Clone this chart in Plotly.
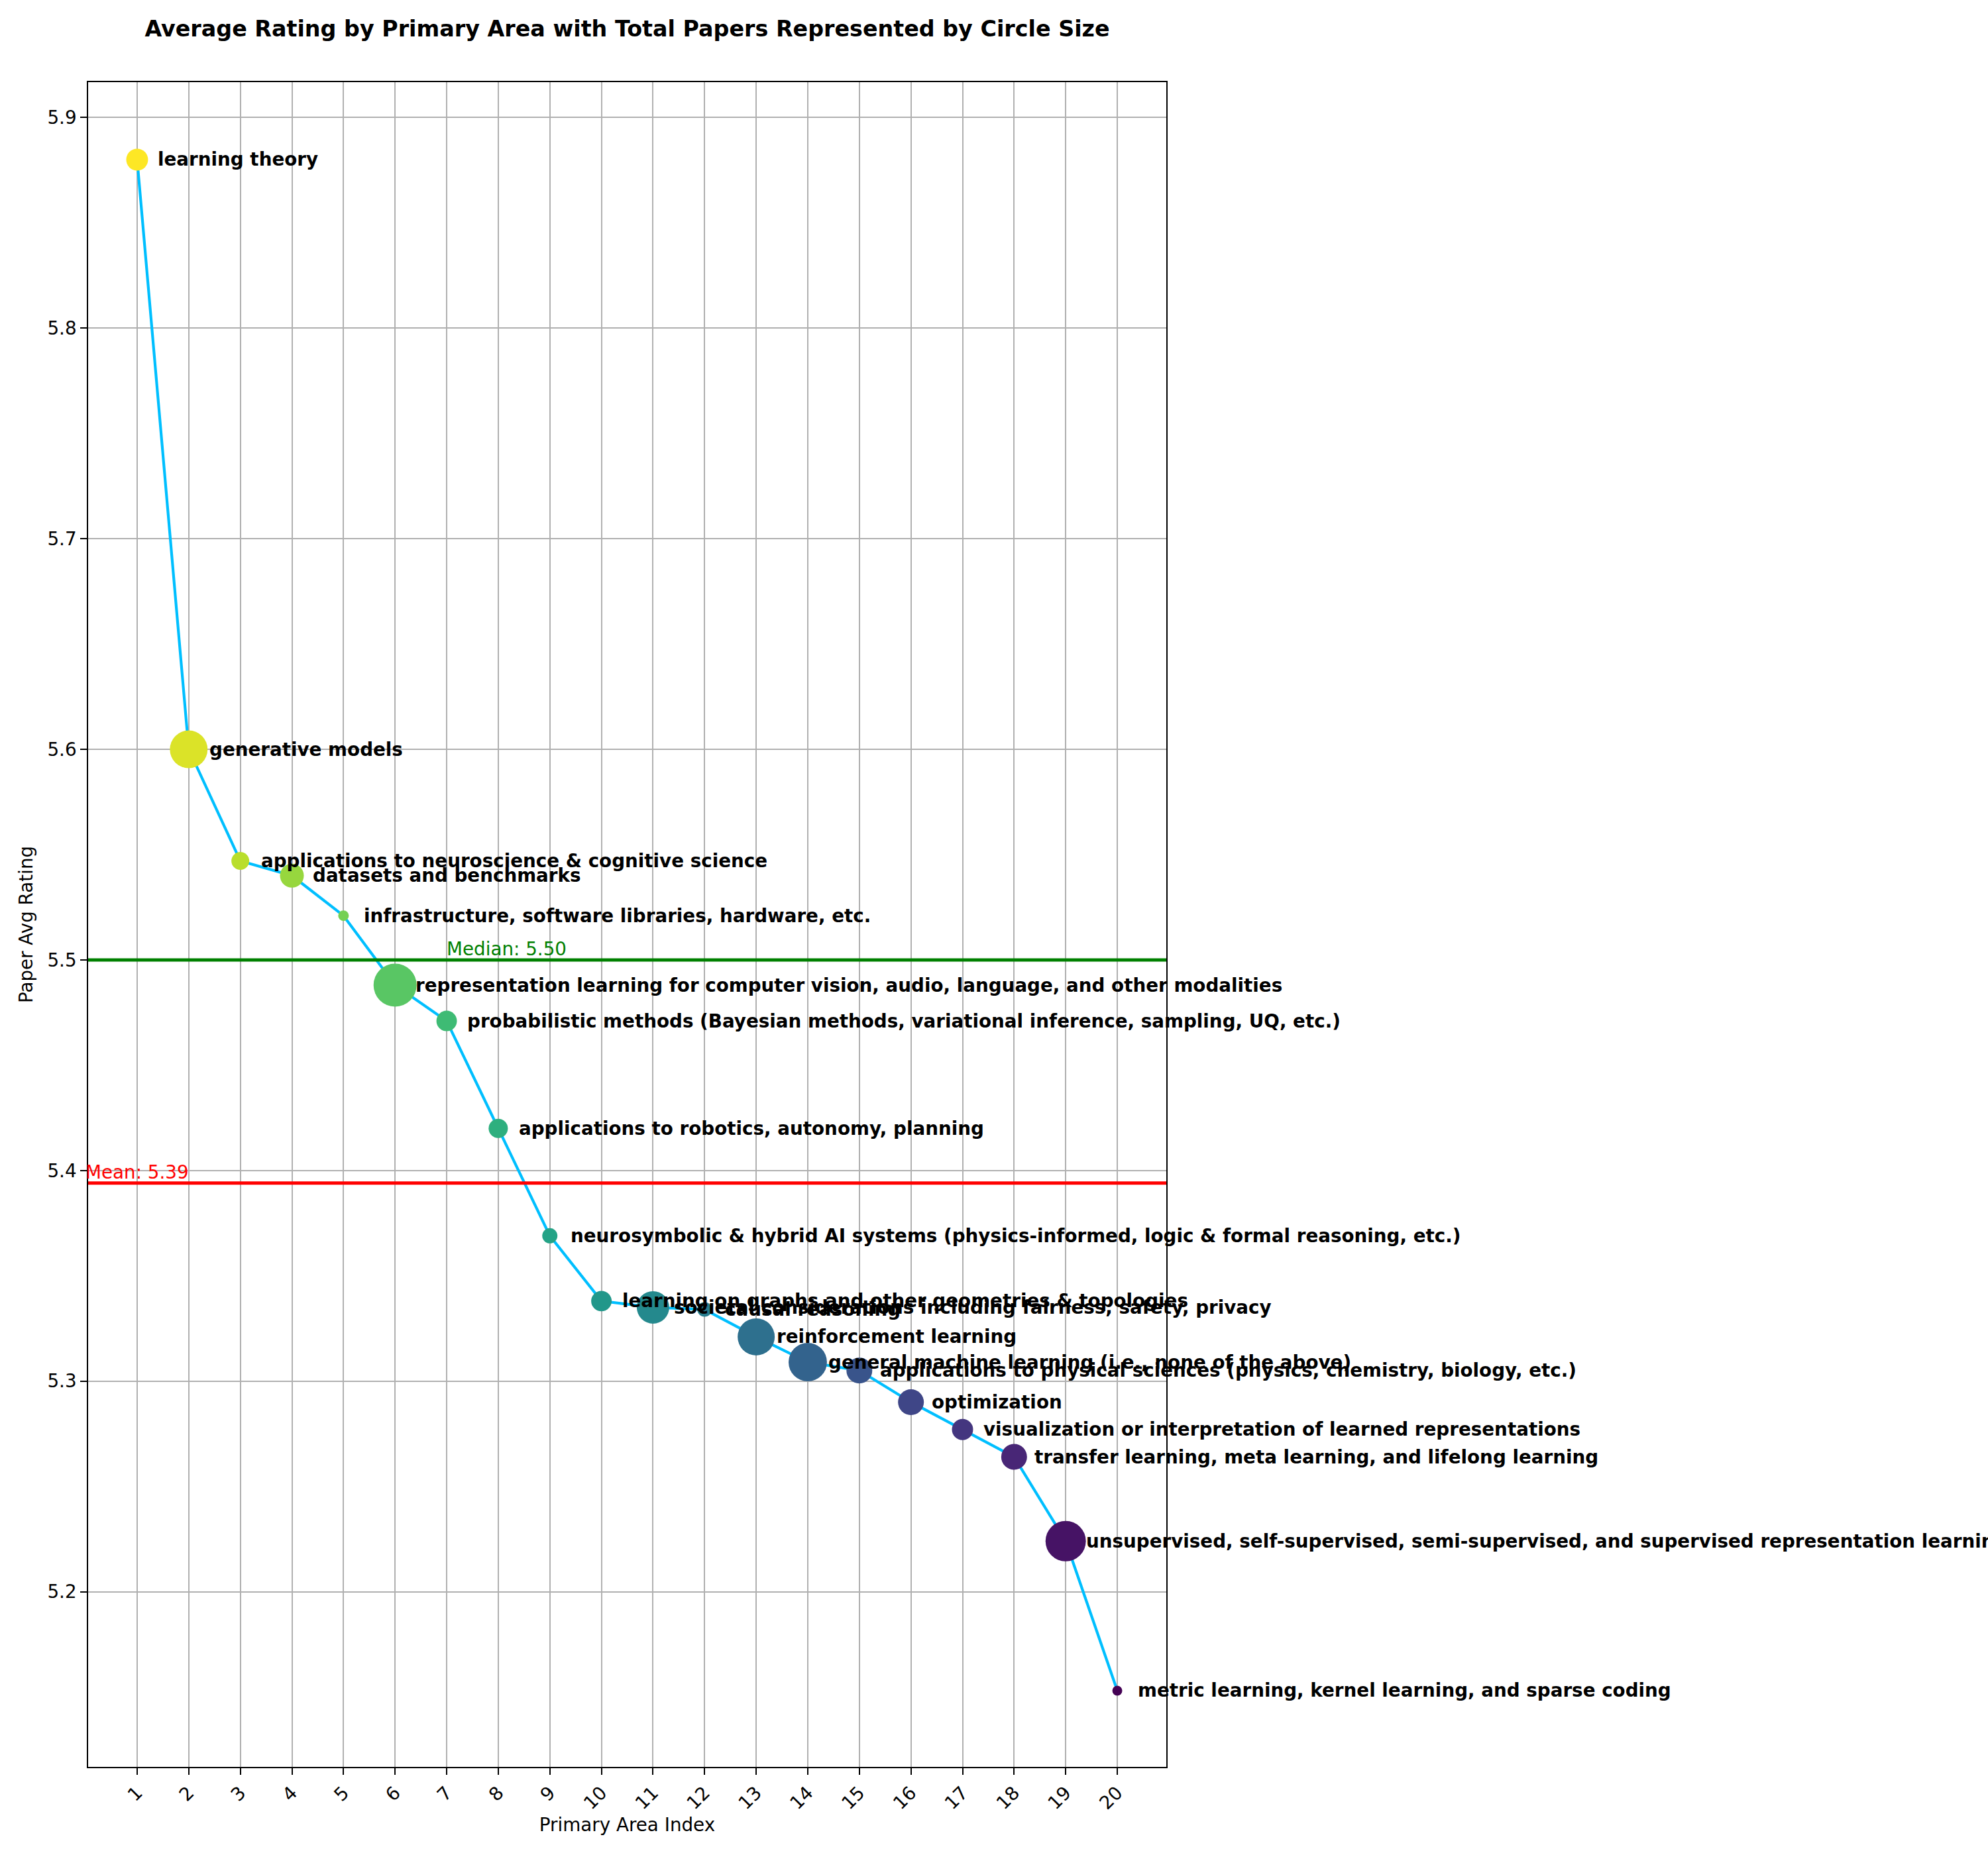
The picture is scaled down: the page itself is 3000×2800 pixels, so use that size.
import plotly.graph_objects as go
import plotly.colors as pc
import math

# ---------------- data ----------------
area_index = list(range(1, 21))
primary_areas = [
    "learning theory",
    "generative models",
    "applications to neuroscience & cognitive science",
    "datasets and benchmarks",
    "infrastructure, software libraries, hardware, etc.",
    "representation learning for computer vision, audio, language, and other modalities",
    "probabilistic methods (Bayesian methods, variational inference, sampling, UQ, etc.)",
    "applications to robotics, autonomy, planning",
    "neurosymbolic & hybrid AI systems (physics-informed, logic & formal reasoning, etc.)",
    "learning on graphs and other geometries & topologies",
    "societal considerations including fairness, safety, privacy",
    "causal reasoning",
    "reinforcement learning",
    "general machine learning (i.e., none of the above)",
    "applications to physical sciences (physics, chemistry, biology, etc.)",
    "optimization",
    "visualization or interpretation of learned representations",
    "transfer learning, meta learning, and lifelong learning",
    "unsupervised, self-supervised, semi-supervised, and supervised representation learning",
    "metric learning, kernel learning, and sparse coding",
]
avg_rating = [5.880, 5.600, 5.547, 5.540, 5.521, 5.488, 5.471, 5.420, 5.369, 5.338,
              5.335, 5.334, 5.321, 5.309, 5.305, 5.290, 5.277, 5.264, 5.224, 5.153]
total_papers = [141, 420, 94, 168, 33, 547, 124, 109, 68, 124,
                311, 63, 406, 435, 197, 197, 132, 197, 481, 29]
mean_rating = 5.394
median_rating = 5.50
y_ticks = [5.2, 5.3, 5.4, 5.5, 5.6, 5.7, 5.8, 5.9]

# ---------------- styling ----------------
PT = 200 / 72.0  # matplotlib points -> pixels at 200 dpi
FONT = "DejaVu Sans"
n = len(area_index)
colors = pc.sample_colorscale("Viridis", [(n - 1 - k) / (n - 1) for k in range(n)])
sizes = [PT * math.sqrt(p) for p in total_papers]

X_RANGE = [0.05, 20.95]
Y_RANGE = [5.1168, 5.9168]

fig = go.Figure()
fig.add_trace(go.Scatter(
    x=area_index, y=avg_rating, mode="lines",
    line=dict(color="#00bfff", width=1.5 * PT),
    hoverinfo="skip", showlegend=False,
))
fig.add_trace(go.Scatter(
    x=area_index, y=avg_rating, mode="markers",
    marker=dict(size=sizes, color=colors, line=dict(width=0), opacity=1),
    showlegend=False,
))

W, H = 3000, 2800
L, R, T, B = 133, 1760, 124, 2667

fig.add_shape(type="line", xref="paper", yref="y", x0=0, x1=1,
              y0=median_rating, y1=median_rating,
              line=dict(color="green", width=1.8 * PT), layer="above")
fig.add_shape(type="line", xref="paper", yref="y", x0=0, x1=1,
              y0=mean_rating, y1=mean_rating,
              line=dict(color="red", width=1.8 * PT), layer="above")

annos = []
for xi, yi, name in zip(area_index, avg_rating, primary_areas):
    annos.append(dict(
        x=xi + 0.4, y=yi, xref="x", yref="y", text=name, showarrow=False,
        xanchor="left", yanchor="middle", xshift=-2,
        font=dict(family=FONT, size=10 * PT, color="black", weight="bold"),
    ))


def to_paper_x(v):
    return (v - X_RANGE[0]) / (X_RANGE[1] - X_RANGE[0])


annos.append(dict(
    x=to_paper_x(0), y=mean_rating, xref="paper", yref="y",
    text=f"Mean: {mean_rating:.2f}",
    showarrow=False, xanchor="left", yanchor="bottom", xshift=-2, yshift=-2,
    font=dict(family=FONT, size=10 * PT, color="red"),
))
annos.append(dict(
    x=7, y=median_rating, xref="x", yref="y", text=f"Median: {median_rating:.2f}",
    showarrow=False, xanchor="left", yanchor="bottom", xshift=-2, yshift=-2,
    font=dict(family=FONT, size=10 * PT, color="green"),
))

axis_common = dict(
    showline=True, linecolor="black", linewidth=0.8 * PT, mirror=True,
    showgrid=True, gridcolor="#b0b0b0", gridwidth=0.8 * PT,
    ticks="outside", ticklen=3.5 * PT, tickwidth=0.8 * PT, tickcolor="black",
    tickfont=dict(family=FONT, size=10 * PT, color="black"),
    zeroline=False,
)

fig.update_layout(
    width=W, height=H,
    margin=dict(l=L, r=W - R, t=T, b=H - B, pad=0),
    paper_bgcolor="white", plot_bgcolor="white",
    title=dict(
        text="<b>Average Rating by Primary Area with Total Papers Represented by Circle Size</b>",
        x=(L + R) / 2 / W, xanchor="center", xref="container",
        y=1 - 43 / H, yanchor="middle", yref="container",
        font=dict(family=FONT, size=12 * PT, color="black"),
    ),
    xaxis=dict(
        **axis_common,
        range=X_RANGE, tickmode="array", tickvals=area_index,
        ticktext=[str(v) for v in area_index], tickangle=-45,
        title=dict(text="Primary Area Index", standoff=8,
                   font=dict(family=FONT, size=10 * PT, color="black")),
    ),
    yaxis=dict(
        **axis_common,
        range=Y_RANGE, tickmode="array", tickvals=y_ticks,
        ticktext=[f"{v:.1f}" for v in y_ticks],
        title=dict(text="Paper Avg Rating", standoff=14,
                   font=dict(family=FONT, size=10 * PT, color="black")),
    ),
    annotations=annos,
    showlegend=False,
)

fig.write_html("out.html")
